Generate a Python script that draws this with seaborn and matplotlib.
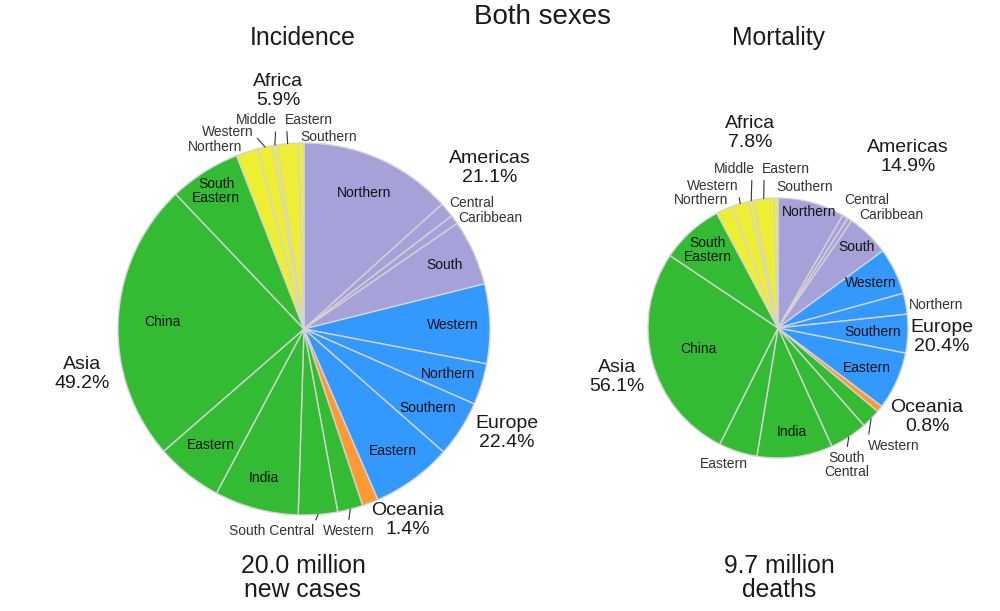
import pandas as pd
import seaborn as sns
import matplotlib.pyplot as plt
import numpy as np

# share of world total (%) by sub-region, clockwise from 12 o'clock
regions = ["Northern", "Central", "Caribbean", "South",
           "Western", "Northern", "Southern", "Eastern",
           "Oceania",
           "Western", "South Central", "India", "Eastern", "China", "South Eastern",
           "Northern", "Western", "Middle", "Eastern", "Southern"]
continents = ["Americas"] * 4 + ["Europe"] * 4 + ["Oceania"] + ["Asia"] * 6 + ["Africa"] * 5
incidence = [13.3, 1.3, 0.8, 5.7,
             6.9, 3.6, 4.9, 7.0,
             1.4,
             2.2, 3.4, 7.3, 5.8, 24.3, 6.2,
             1.9, 1.3, 0.4, 1.8, 0.5]
mortality = [8.3, 0.7, 0.6, 5.3,
             5.8, 2.6, 4.8, 7.2,
             0.8,
             2.4, 4.7, 9.4, 4.8, 27.0, 7.8,
             2.0, 2.2, 0.6, 2.5, 0.5]
continent_order = ["Americas", "Europe", "Oceania", "Asia", "Africa"]
continent_colors = ["#a7a1d9", "#3399ff", "#ff9933", "#33bb33", "#eeee33"]
totals = {"Incidence": "20.0 million\nnew cases", "Mortality": "9.7 million\ndeaths"}
suptitle = "Both sexes"

W, H = 1000, 611
sns.set_theme(style="white")
plt.rcParams["font.family"] = ["Liberation Sans", "DejaVu Sans"]
TXT = "#1a1a1a"
SMALL = "#333333"

df = pd.DataFrame({"continent": continents, "region": regions,
                   "Incidence": incidence, "Mortality": mortality})
palette = dict(zip(continent_order, continent_colors))
cont_share = df.groupby("continent")[["Incidence", "Mortality"]].sum()

# layout (image pixels, offsets measured upward)
layout = {
    "Incidence": dict(
        center=(304, 329), radius=186,
        inside={0: 0.80, 3: 0.83, 4: 0.80, 5: 0.81, 6: 0.79, 7: 0.81,
                11: 0.83, 12: 0.80, 13: 0.76, 14: 0.88},
        outside=[
            (1, None, (2, 7), "left", "center", None),
            (2, None, (4, 2), "left", "center", None),
            (9, None, (-2, -15), "center", "top", (0.5, 1)),
            (10, None, (-4, -10), "right", "top", (1, 1)),
            (15, None, (-5, 5), "right", "center", None),
            (16, None, (-12, 15), "right", "center", (1, 0.4)),
            (17, None, (2, 18), "right", "bottom", (0.97, 0)),
            (18, None, (-3, 17), "left", "bottom", (0.04, 0)),
            (19, None, (-1, 6.5), "left", "center", None),
        ],
        cont={"Africa": (-26, 238), "Americas": (186, 161), "Europe": (203, -104),
              "Oceania": (104, -191), "Asia": (-222, -45)},
        total=(-1, -249), head=(-1, 291),
    ),
    "Mortality": dict(
        center=(778, 328), radius=130,
        inside={0: 0.92, 3: 0.87, 4: 0.79, 6: 0.73, 7: 0.75,
                11: 0.81, 13: 0.63, 14: 0.81},
        outside=[
            (1, None, (-1, 17), "left", "center", None),
            (2, None, (10, 5), "left", "center", None),
            (5, None, (3, -1.4), "left", "center", None),
            (9, None, (-3, -20), "left", "top", (0, 1)),
            (10, "South\nCentral", (-2, -14), "center", "top", (0.5, 1)),
            (12, None, (-14, -5), "center", "top", None),
            (15, None, (4, 9.5), "right", "center", None),
            (16, None, (-2, 17.5), "right", "center", (1, 0.2)),
            (17, None, (4, 25), "right", "bottom", (0.92, 0)),
            (18, None, (-2, 23), "left", "bottom", (0.05, 0)),
            (19, None, (0, 11), "left", "center", None),
        ],
        cont={"Africa": (-28, 195), "Americas": (130, 171), "Europe": (164, -9),
              "Oceania": (149, -89), "Asia": (-161, -49)},
        total=(1, -250), head=(1, 290),
    ),
}

fig = plt.figure(figsize=(10, 6.11), dpi=100)
ax = fig.add_axes([0, 0, 1, 1])

for measure, cfg in layout.items():
    cx, cy = cfg["center"][0], H - cfg["center"][1]
    r = cfg["radius"]
    wedges, _ = ax.pie(df[measure], colors=[palette[c] for c in df.continent],
                       startangle=90, counterclock=False, center=(cx, cy), radius=r,
                       wedgeprops=dict(edgecolor="#d4d4d4", linewidth=1.0))

    def at(i, d):
        w = wedges[i]
        a = np.deg2rad((w.theta1 + w.theta2) / 2)
        return cx + d * r * np.cos(a), cy + d * r * np.sin(a)

    for i, d in cfg["inside"].items():
        x, y = at(i, d)
        ax.text(x, y, df.region[i].replace(" ", "\n"), ha="center", va="center",
                fontsize=10, color="#111111", linespacing=1.0)

    for i, txt, (dx, dy), ha, va, rel in cfg["outside"]:
        x, y = at(i, 1.0)
        label = txt if txt else df.region[i]
        props = None
        if rel is not None:
            props = dict(arrowstyle="-", color=SMALL, lw=0.8, shrinkA=1, shrinkB=0, relpos=rel)
        ax.annotate(label, xy=(x, y), xytext=(x + dx, y + dy), ha=ha, va=va,
                    fontsize=10, color=SMALL, linespacing=1.0, arrowprops=props)

    for c, (dx, dy) in cfg["cont"].items():
        ax.text(cx + dx, cy + dy, f"{c}\n{cont_share.loc[c, measure]:.1f}%",
                ha="center", va="center", fontsize=14, color=TXT, linespacing=1.1)

    ax.text(cx + cfg["total"][0], cy + cfg["total"][1], totals[measure],
            ha="center", va="center", fontsize=17.8, color=TXT, linespacing=1.05)
    ax.text(cx + cfg["head"][0], cy + cfg["head"][1], measure,
            ha="center", va="center", fontsize=17.8, color=TXT)

ax.text(542, H - 17, suptitle, ha="center", va="center", fontsize=20, color=TXT)

ax.set_xlim(0, W)
ax.set_ylim(0, H)
ax.set_aspect("equal")
ax.axis("off")

fig.savefig("out.png", dpi=100)
